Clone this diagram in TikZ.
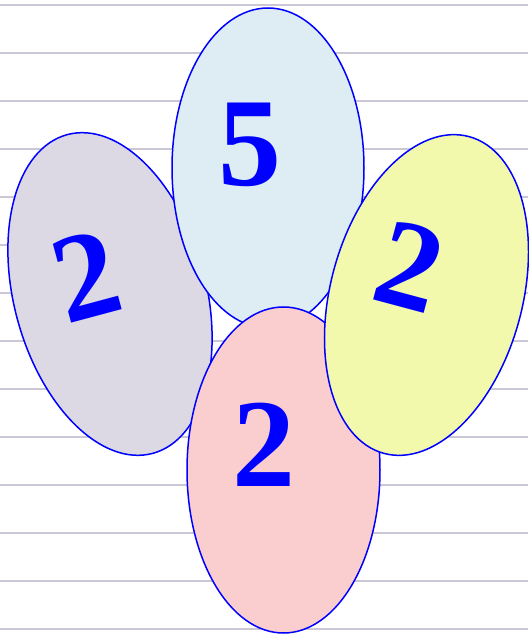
\documentclass[tikz,border=0pt]{standalone}
\usepackage{fontspec}
\setmainfont{Liberation Serif}
\definecolor{ruleline}{RGB}{204,199,214}
\definecolor{fillgray}{RGB}{220,217,228}
\definecolor{fillblue}{RGB}{222,236,243}
\definecolor{fillpink}{RGB}{250,206,206}
\definecolor{fillyellow}{RGB}{242,248,172}
\definecolor{ink}{RGB}{0,0,255}
\tikzset{
  rule/.style={draw=ruleline, line width=1.6pt},
  blob/.style={draw=ink, line width=1.5pt},
  digit/.style={text=ink, inner sep=0pt, font=\fontsize{126}{126}\selectfont\bfseries}
}
\begin{document}
\begin{tikzpicture}[x=1pt,y=1pt]
\useasboundingbox (0,0) rectangle (528,635);
\foreach \k in {0,...,13} {
  \draw[rule] (0,{630-48*\k}) -- (528,{630-48*\k});
}
% left gray
\draw[blob, fill=fillgray, rotate around={15:(110,341)}] (110,341) ellipse [x radius=96, y radius=165];
\node[digit, rotate=15] (twoL) at (86,359) {2};
% top blue
\draw[blob, fill=fillblue] (268,467) ellipse [x radius=96, y radius=160];
\node[digit] (five) at (250,490) {5};
% bottom pink
\draw[blob, fill=fillpink] (283.5,165) ellipse [x radius=96.5, y radius=163];
\node[digit] (twoB) at (264,190) {2};
% right yellow
\draw[blob, fill=fillyellow, rotate around={-15:(426.5,340)}] (426.5,340) ellipse [x radius=96, y radius=164];
\node[digit, rotate=-15] (twoR) at (410,369) {2};
\end{tikzpicture}
\end{document}
